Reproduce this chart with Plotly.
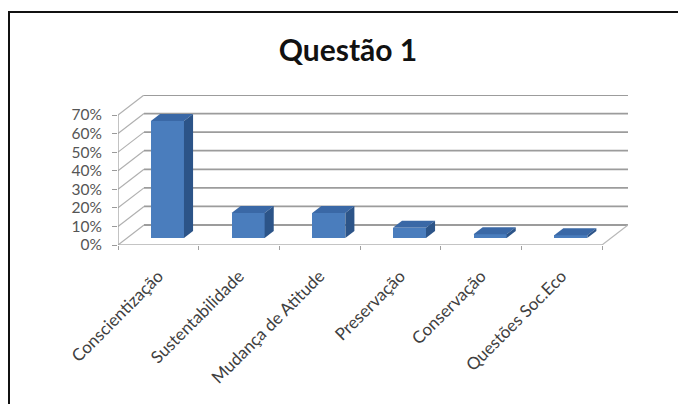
import plotly.graph_objects as go

# ---- data ----
categories = ["Conscientização", "Sustentabilidade", "Mudança de Atitude",
              "Preservação", "Conservação", "Questões Soc.Eco"]
values = [0.63, 0.135, 0.135, 0.055, 0.02, 0.015]
y_ticks = [0.0, 0.1, 0.2, 0.3, 0.4, 0.5, 0.6, 0.7]
y_tick_labels = ["0%", "10%", "20%", "30%", "40%", "50%", "60%", "70%"]
title_text = "Questão 1"

# ---- geometry / style ----
W, H = 678, 404
ML, MR, MT, MB = 118, 50, 95, 159
PW, PH = W - ML - MR, H - MT - MB
n = len(categories)
DX = 156 / 484          # depth offset in category units
DY = 14 / 130           # depth offset in value units
F0, F1 = 0.35, 0.70     # bar front/back position in depth
BAR_W = 0.41
GRID = "#9c9c9c"
SIDE_GRID = "#b0b0b0"
FRONT = "#4a7dbd"
TOP = "#3a68a6"
SIDE = "#2c5488"
FONT = "Lato"

fig = go.Figure()

def gline(x0, y0, x1, y1, color=GRID, width=1.8):
    fig.add_shape(type="line", xref="x", yref="y", x0=x0, y0=y0, x1=x1, y1=y1,
                  line=dict(color=color, width=width), layer="below")

# back wall gridlines and side wall diagonals
for v in y_ticks:
    gline(DX, v + DY, n + DX, v + DY)
    gline(0, v, DX, v + DY, SIDE_GRID, 1.2)
# floor front edge and right edge, front axis line
gline(0, 0, n, 0, "#b0b0b0", 1.6)
gline(n, 0, n + DX, DY, "#b8b8b8", 1.2)
gline(0, 0, 0, y_ticks[-1], "#9a9a9a", 1.2)

# bar front faces
b0 = F0 * DY
fig.add_trace(go.Bar(
    x=[i + 0.5 + F0 * DX for i in range(n)], y=values, base=[b0] * n,
    width=BAR_W, marker=dict(color=FRONT, line=dict(width=0)),
    showlegend=False, cliponaxis=False))

# bar top and side faces
ddx = (F1 - F0) * DX
ddy = (F1 - F0) * DY
for i, v in enumerate(values):
    xc = i + 0.5 + F0 * DX
    x0, x1 = xc - BAR_W / 2, xc + BAR_W / 2
    fig.add_trace(go.Scatter(
        x=[x0, x0 + ddx, x1 + ddx, x1, x0],
        y=[v + b0, v + b0 + ddy, v + b0 + ddy, v + b0, v + b0],
        fill="toself", fillcolor=TOP, mode="lines", line=dict(width=0, color=TOP),
        hoverinfo="skip", showlegend=False, cliponaxis=False))
    fig.add_trace(go.Scatter(
        x=[x1, x1, x1 + ddx, x1 + ddx, x1],
        y=[b0, v + b0, v + b0 + ddy, b0 + ddy, b0],
        fill="toself", fillcolor=SIDE, mode="lines", line=dict(width=0, color=SIDE),
        hoverinfo="skip", showlegend=False, cliponaxis=False))

fig.update_layout(
    width=W, height=H, margin=dict(l=ML, r=MR, t=MT, b=MB),
    paper_bgcolor="white", plot_bgcolor="rgba(0,0,0,0)",
    showlegend=False, bargap=0,
    title=dict(text=title_text, x=348 / W, xref="container", xanchor="center",
               y=1 - 50 / H, yref="container", yanchor="middle",
               font=dict(family=FONT, size=30, color="#111111", weight="bold")),
    xaxis=dict(range=[0, n + DX], showgrid=False, zeroline=False, showline=False,
               tickmode="array", tickvals=[i + 0.5 for i in range(n)],
               ticktext=categories, tickangle=-45, ticks="",
               tickfont=dict(family=FONT, size=17, color="#404040"),
               ticklabelstandoff=17,
               minor=dict(tickmode="array", tickvals=list(range(n + 1)),
                          ticks="outside", ticklen=4, tickcolor="#a0a0a0", showgrid=False),
               fixedrange=True),
    yaxis=dict(range=[0, y_ticks[-1] + DY], showgrid=False, zeroline=False, showline=False,
               tickmode="array", tickvals=y_ticks, ticktext=y_tick_labels,
               ticks="outside", ticklen=5, tickcolor="#9a9a9a",
               tickfont=dict(family=FONT, size=15.5, color="#555555"),
               ticklabelstandoff=7, fixedrange=True),
)

# chart frame (top and left edges visible)
def px_x(p):
    return (p - ML) / PW

def px_y(p):
    return (H - MB - p) / PH

fig.add_shape(type="line", xref="paper", yref="paper",
              x0=px_x(8), x1=px_x(W), y0=px_y(12), y1=px_y(12),
              line=dict(color="#111111", width=2))
fig.add_shape(type="line", xref="paper", yref="paper",
              x0=px_x(9), x1=px_x(9), y0=px_y(11), y1=px_y(H),
              line=dict(color="#111111", width=2))

fig.write_html("out.html")
